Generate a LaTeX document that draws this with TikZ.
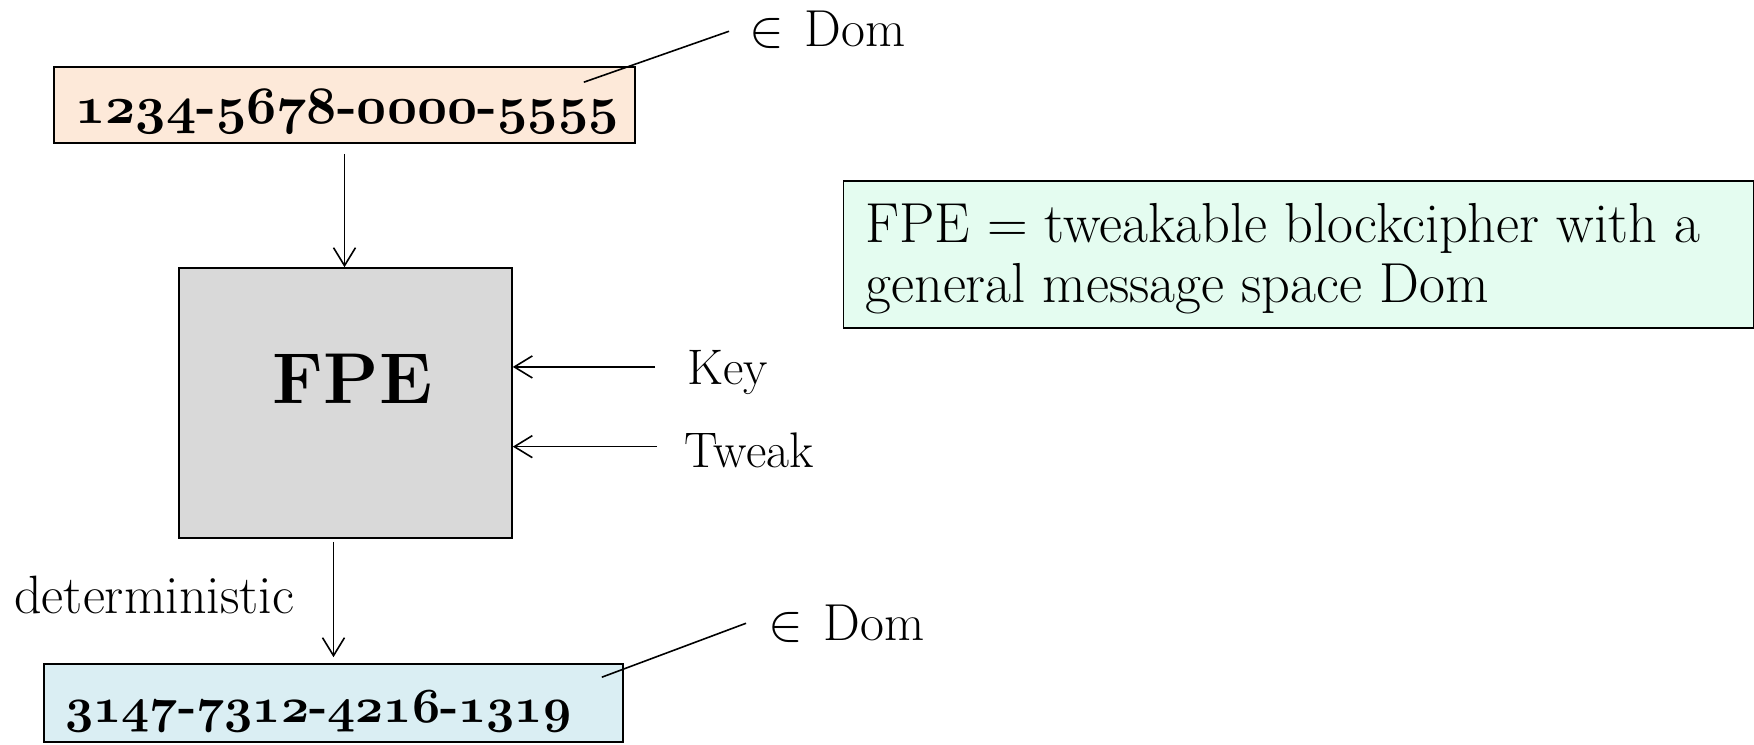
\documentclass[tikz,border=0pt]{standalone}
\usepackage{fix-cm}
\usetikzlibrary{arrows.meta,calc}
\definecolor{peach}{HTML}{FDE9D9}
\definecolor{lblue}{HTML}{DAEEF3}
\definecolor{mint}{HTML}{E4FCF0}
\definecolor{fgray}{HTML}{D9D9D9}
\tikzset{
  box/.style={draw=black, line width=0.8pt, inner sep=0pt},
  arr/.style={line width=0.8pt, -{Straight Barb[length=9pt,width=11pt]}},
  leader/.style={line width=0.8pt},
  lbl/.style={inner sep=0pt, text depth=0pt, font=\fontsize{25}{29}\selectfont},
  num/.style={inner sep=0pt, font=\fontsize{26.3}{30}\selectfont\bfseries},
  dom/.style={inner sep=0pt, font=\fontsize{26}{30}\selectfont},
}
\newcommand{\osn}[1]{{\usefont{OML}{cmm}{b}{it}#1}}
\begin{document}
\begin{tikzpicture}[x=0.5pt,y=-0.5pt]
\useasboundingbox (0,0) rectangle (1754,744);
% boxes
\node[box, fill=peach, minimum width=290.5pt, minimum height=38pt] (in) at (344.5,105) {};
\node[num, anchor=base west] (intext) at (75,123) {\osn{1234}-\osn{5678}-\osn{0000}-\osn{5555}};
\node[box, fill=fgray, minimum width=166.5pt, minimum height=135pt] (fpe) at (345.5,403) {};
\node[inner sep=0pt, anchor=base, font=\fontsize{36}{40}\selectfont\bfseries] (fpetext) at (352.5,403) {FPE};
\node[box, fill=lblue, minimum width=289.5pt, minimum height=39pt] (out) at (333.5,703) {};
\node[num, anchor=base west, font=\fontsize{24.5}{28}\selectfont\bfseries] (outtext) at (65,722) {\osn{3147}-\osn{7312}-\osn{4216}-\osn{1319}};
\node[box, fill=mint, minimum width=455pt, minimum height=73.5pt] (note) at (1298.5,254.5) {};
\node[inner sep=0pt, anchor=north west, align=left, font=\fontsize{28.2}{30}\selectfont] (notetext) at (865,203)
  {FPE = tweakable blockcipher with a\\general message space Dom};
% labels
\node[lbl, anchor=base west] (key) at (687,384) {Key};
\node[lbl, anchor=base west] (tweak) at (684,467) {Tweak};
\node[lbl, anchor=base west, font=\fontsize{27}{31}\selectfont] (det) at (14,613) {deterministic};
\node[dom, anchor=base west] (dom1) at (749,46) {$\in$\hspace{0.4em}Dom};
\node[dom, anchor=base west] (dom2) at (768,640) {$\in$\hspace{0.4em}Dom};
% connectors
\draw[arr] ([yshift=-5pt]in.south) -- (in.south |- fpe.north);
\draw[arr, shorten >=3pt] ([xshift=-6pt,yshift=-1.5pt]fpe.south) -- ([xshift=-6pt]fpe.south |- out.north);
\draw[arr] ([xshift=-16pt]key.west) -- (key.west -| fpe.east);
\draw[arr] ([xshift=-13.5pt,yshift=1.5pt]tweak.west) -- ([yshift=1.5pt]tweak.west -| fpe.east);
\draw[leader] ([xshift=-26pt,yshift=-8pt]in.north east) -- ([xshift=-10pt,yshift=-1pt]dom1.west);
\draw[leader] ([xshift=-11pt,yshift=-7pt]out.north east) -- ([xshift=-11pt]dom2.west);
\end{tikzpicture}
\end{document}
